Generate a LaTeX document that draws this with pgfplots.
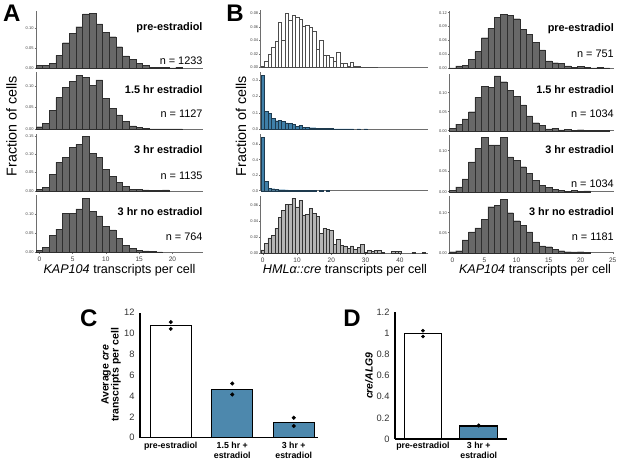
\documentclass[border=0pt]{standalone}
\usepackage{fontspec}
\setmainfont{Liberation Sans}
\usepackage{pgfplots}
\pgfplotsset{compat=1.18}
\definecolor{axcol}{HTML}{6E6E6E}
\definecolor{hgray}{HTML}{686868}
\definecolor{hedge}{HTML}{2E2E2E}
\definecolor{hblue}{HTML}{3F7FA8}
\definecolor{hbedge}{HTML}{1E3A4E}
\definecolor{hlight}{HTML}{B5B5B5}
\definecolor{cblue}{HTML}{4D88AD}
\pgfplotsset{
 hbase/.style={scale only axis, height=57pt, ymin=0, anchor=south west, clip=false,
  axis x line*=bottom, axis y line*=left,
  axis line style={-, draw=axcol, line width=0.5pt},
  tick style={draw=axcol, line width=0.4pt}, major tick length=1.5pt, tick align=outside,
  yticklabel style={font=\fontsize{4}{4}\selectfont, text=black!75, inner sep=0.8pt},
  xticklabel style={font=\fontsize{6.5}{7}\selectfont, text=black!75},
  scaled y ticks=false, /pgf/number format/assume math mode=true,
  y tick label style={/pgf/number format/fixed, /pgf/number format/fixed zerofill, /pgf/number format/precision=2}},
 colA/.style={hbase, width=167pt, xmin=-0.5, xmax=24.6, xtick={0,5,10,15,20}},
 colB/.style={hbase, width=167.3pt, xmin=-0.6, xmax=48.2, xtick={0,10,20,30,40}},
 colR/.style={hbase, width=164.7pt, xmin=-0.5, xmax=25.2, xtick={0,5,10,15,20,25}},
 hbar/.style={ybar, bar width=1, bar shift=0, line width=0.35pt},
 gbar/.style={hbar, fill=hgray, draw=hedge},
}
\newcommand{\lbl}{\fontsize{10.9}{12}\selectfont}
\begin{document}
\begin{tikzpicture}
\useasboundingbox (0,0) rectangle (617pt,466pt);
\fill[white] (0,0) rectangle (617pt,466pt);
% ---------------- Panel A ----------------
\begin{axis}[colA, at={(36pt,397.7pt)}, ymax=0.1425, ytick={0,0.05,0.10}, xtick=\empty]
\addplot[gbar] coordinates {(0,0.007)(1,0.007)(2,0.0125)(3,0.032)(4,0.064)(5,0.0875)(6,0.104)(7,0.136)(8,0.1375)(9,0.111)(10,0.09)(11,0.079)(12,0.054)(13,0.031)(14,0.0225)(15,0.0125)(16,0.008)(17,0.0025)(18,0.003)(19,0.003)(20,0.001)(21,0.002)};
\end{axis}
\begin{axis}[colA, at={(36pt,336.7pt)}, ymax=0.1313, ytick={0,0.05,0.10}, xtick=\empty]
\addplot[gbar] coordinates {(0,0.006)(1,0.014)(2,0.043)(3,0.073)(4,0.097)(5,0.11)(6,0.125)(7,0.12)(8,0.102)(9,0.114)(10,0.071)(11,0.048)(12,0.033)(13,0.018)(14,0.008)(15,0.005)(16,0.002)(17,0.001)(18,0.001)(19,0.001)(20,0.001)(21,0.001)};
\end{axis}
\begin{axis}[colA, at={(36pt,275pt)}, ymax=0.155, ytick={0,0.05,0.10,0.15}, xtick=\empty]
\addplot[gbar] coordinates {(0,0.0045)(1,0.01)(2,0.045)(3,0.078)(4,0.092)(5,0.119)(6,0.127)(7,0.148)(8,0.103)(9,0.091)(10,0.059)(11,0.039)(12,0.024)(13,0.012)(14,0.005)(15,0.0045)(16,0.003)(17,0.001)(18,0.002)(19,0.003)};
\end{axis}
\begin{axis}[colA, at={(36pt,213.7pt)}, ymax=0.15, ytick={0,0.05,0.10}]
\addplot[gbar] coordinates {(0,0.006)(1,0.013)(2,0.044)(3,0.061)(4,0.103)(5,0.103)(6,0.114)(7,0.142)(8,0.107)(9,0.096)(10,0.068)(11,0.059)(12,0.037)(13,0.019)(14,0.0105)(15,0.006)(16,0.0035)(17,0.002)(18,0.001)};
\end{axis}
% ---------------- Panel B middle ----------------
\begin{axis}[colB, at={(260.7pt,398.5pt)}, ymax=0.0844, ytick={0,0.02,0.04,0.06,0.08}, xtick=\empty]
\addplot[hbar, fill=white, draw=black!70] coordinates {(0,0.002)(1,0.01)(2,0.0195)(3,0.03)(4,0.039)(5,0.067)(6,0.04)(7,0.081)(8,0.07)(9,0.078)(10,0.074)(11,0.071)(12,0.061)(13,0.062)(14,0.06)(15,0.054)(16,0.027)(17,0.04)(18,0.0185)(19,0.0185)(20,0.016)(21,0.0095)(22,0.022)(23,0.006)(24,0.006)(25,0.002)(26,0.0075)(27,0.002)(28,0.0015)(29,0.001)(30,0.001)(31,0.001)(32,0.001)(33,0.001)};
\end{axis}
\begin{axis}[colB, at={(260.7pt,337pt)}, ymax=0.35, ytick={0,0.1,0.2,0.3}, xtick=\empty,
  y tick label style={/pgf/number format/precision=1}]
\addplot[hbar, fill=hblue, draw=hbedge] coordinates {(0,0.33)(1,0.108)(2,0.098)(3,0.067)(4,0.051)(5,0.055)(6,0.045)(7,0.037)(8,0.035)(9,0.029)(10,0.016)(11,0.022)(12,0.012)(13,0.01)(14,0.008)(15,0.008)(16,0.005)(17,0.004)(18,0.003)(19,0.002)(20,0.002)(21,0.001)(22,0.001)(23,0.001)(24,0.001)(25,0.001)(26,0.001)(28,0.001)(30,0.001)};
\end{axis}
\begin{axis}[colB, at={(260.7pt,275.3pt)}, ymax=0.735, ytick={0,0.2,0.4,0.6}, xtick=\empty,
  y tick label style={/pgf/number format/precision=1}]
\addplot[hbar, fill=hblue, draw=hbedge] coordinates {(0,0.69)(1,0.125)(2,0.034)(3,0.026)(4,0.017)(5,0.013)(6,0.013)(7,0.012)(8,0.009)(9,0.006)(10,0.003)(11,0.002)(12,0.002)(13,0.001)(14,0.001)(15,0.001)(17,0.001)(19,0.001)};
\end{axis}
\begin{axis}[colB, at={(260.7pt,213pt)}, ymax=0.0717, ytick={0,0.02,0.04,0.06}]
\addplot[hbar, fill=hlight, draw=black!80] coordinates {(0,0.004)(1,0.012)(2,0.019)(3,0.0225)(4,0.031)(5,0.045)(6,0.054)(7,0.061)(8,0.061)(9,0.069)(10,0.058)(11,0.066)(12,0.048)(13,0.049)(14,0.056)(15,0.05)(16,0.046)(17,0.025)(18,0.031)(19,0.030)(20,0.0285)(21,0.011)(22,0.017)(23,0.0095)(24,0.009)(25,0.0055)(26,0.009)(27,0.0045)(28,0.0075)(29,0.0105)(30,0.0005)(31,0.003)(32,0.0025)(33,0.003)(34,0.003)(35,0.0012)(38,0.002)(39,0.002)(40,0.002)(44,0.001)(47,0.001)};
\end{axis}
% ---------------- Panel B right ----------------
\begin{axis}[colR, at={(449.3pt,397.7pt)}, ymax=0.123, ytick={0,0.03,0.06,0.09,0.12}, xtick=\empty]
\addplot[gbar] coordinates {(0,0.001)(1,0.005)(2,0.007)(3,0.02)(4,0.036)(5,0.066)(6,0.086)(7,0.11)(8,0.117)(9,0.114)(10,0.107)(11,0.084)(12,0.073)(13,0.056)(14,0.04)(15,0.016)(16,0.012)(17,0.011)(18,0.005)(19,0.002)(20,0.0035)(21,0.002)(22,0.001)(23,0.0015)(24,0.001)};
\end{axis}
\begin{axis}[colR, at={(449.3pt,335.3pt)}, ymax=0.15, ytick={0,0.05,0.10}, xtick=\empty]
\addplot[gbar] coordinates {(0,0.006)(1,0.017)(2,0.031)(3,0.05)(4,0.088)(5,0.116)(6,0.114)(7,0.144)(8,0.129)(9,0.107)(10,0.091)(11,0.068)(12,0.039)(13,0.021)(14,0.014)(15,0.005)(16,0.006)(17,0.002)(18,0.0035)(19,0.001)(20,0.0025)(21,0.001)(22,0.001)(23,0.001)(24,0.001)};
\end{axis}
\begin{axis}[colR, at={(449.3pt,274.3pt)}, ymax=0.139, ytick={0,0.05,0.10}, xtick=\empty]
\addplot[gbar] coordinates {(0,0.004)(1,0.012)(2,0.031)(3,0.073)(4,0.106)(5,0.132)(6,0.114)(7,0.114)(8,0.132)(9,0.085)(10,0.077)(11,0.061)(12,0.045)(13,0.028)(14,0.015)(15,0.011)(16,0.006)(17,0.0025)(18,0.001)(19,0.003)(20,0.001)(21,0.002)};
\end{axis}
\begin{axis}[colR, at={(449.3pt,213.3pt)}, ymax=0.1425, ytick={0,0.05,0.10}]
\addplot[gbar] coordinates {(0,0.0025)(1,0.005)(2,0.032)(3,0.052)(4,0.062)(5,0.084)(6,0.115)(7,0.119)(8,0.133)(9,0.1)(10,0.08)(11,0.069)(12,0.052)(13,0.027)(14,0.017)(15,0.015)(16,0.008)(17,0.005)(18,0.0025)(19,0.002)(20,0.0025)(21,0.001)};
\end{axis}
% ---------------- Panel C ----------------
\begin{axis}[at={(140pt,28.3pt)}, anchor=south west, scale only axis, width=178pt, height=125pt,
  xmin=-0.5, xmax=2.394, ymin=0, ymax=12, clip=false,
  axis x line*=bottom, axis y line*=left, axis line style={-, line width=1.1pt, black},
  ytick={0,2,4,6,8,10,12}, xtick={0,1,2}, major tick length=0pt,
  /pgf/number format/assume math mode=true,
  yticklabel style={font=\fontsize{9.3}{9.3}\selectfont, text=black!80, xshift=-2pt},
  xticklabels={pre-estradiol,{1.5 hr +\\estradiol},{3 hr +\\estradiol}},
  xticklabel style={font=\bfseries\fontsize{8.8}{9.8}\selectfont, align=center, yshift=-1pt}]
\addplot[ybar, bar width=0.667, bar shift=0, fill=white, draw=black, line width=1.1pt] coordinates {(0,10.8)};
\addplot[ybar, bar width=0.667, bar shift=0, fill=cblue, draw=black, line width=1.1pt] coordinates {(1,4.67)(2,1.44)};
\addplot[only marks, mark=*, mark size=1.8pt, black] coordinates {(0,11.1)(0,10.45)(1,5.2)(1,4.15)(2,1.92)(2,1.12)};
\end{axis}
% ---------------- Panel D ----------------
\begin{axis}[at={(395pt,27pt)}, anchor=south west, scale only axis, width=111.7pt, height=126.8pt,
  xmin=-0.5, xmax=1.5, ymin=0, ymax=1.2, clip=false,
  axis x line*=bottom, axis y line*=left, axis line style={-, line width=1.1pt, black},
  ytick={0,0.2,0.4,0.6,0.8,1,1.2}, xtick={0,1}, major tick length=0pt,
  /pgf/number format/assume math mode=true,
  yticklabel style={font=\fontsize{9.3}{9.3}\selectfont, text=black!80, xshift=-2pt},
  xticklabels={pre-estradiol,{3 hr +\\estradiol}},
  xticklabel style={font=\bfseries\fontsize{8.8}{9.8}\selectfont, align=center}]
\addplot[ybar, bar width=0.675, bar shift=0, fill=white, draw=black, line width=1.1pt] coordinates {(0,1.0)};
\addplot[ybar, bar width=0.675, bar shift=0, fill=cblue, draw=black, line width=1.1pt] coordinates {(1,0.123)};
\addplot[only marks, mark=*, mark size=1.6pt, black] coordinates {(0,1.025)(0,0.97)(1,0.13)(1,0.125)};
\end{axis}
% ---------------- Texts ----------------
\node[anchor=east, inner sep=0, font=\lbl\bfseries] at (202.7pt,438pt) {pre-estradiol};
\node[anchor=east, inner sep=0, font=\lbl] at (202.7pt,405pt) {n = 1233};
\node[anchor=east, inner sep=0, font=\lbl\bfseries] at (202.7pt,376.5pt) {1.5 hr estradiol};
\node[anchor=east, inner sep=0, font=\lbl] at (202.7pt,352pt) {n = 1127};
\node[anchor=east, inner sep=0, font=\lbl\bfseries] at (202.7pt,316pt) {3 hr estradiol};
\node[anchor=east, inner sep=0, font=\lbl] at (202.7pt,290.5pt) {n = 1135};
\node[anchor=east, inner sep=0, font=\lbl\bfseries] at (202.7pt,254.5pt) {3 hr no estradiol};
\node[anchor=east, inner sep=0, font=\lbl] at (202.7pt,229pt) {n = 764};
\node[anchor=east, inner sep=0, font=\lbl\bfseries] at (614pt,437.3pt) {pre-estradiol};
\node[anchor=east, inner sep=0, font=\lbl] at (614pt,412.3pt) {n = 751};
\node[anchor=east, inner sep=0, font=\lbl\bfseries] at (614pt,376.5pt) {1.5 hr estradiol};
\node[anchor=east, inner sep=0, font=\lbl] at (614pt,352pt) {n = 1034};
\node[anchor=east, inner sep=0, font=\lbl\bfseries] at (614pt,316.5pt) {3 hr estradiol};
\node[anchor=east, inner sep=0, font=\lbl] at (614pt,282.7pt) {n = 1034};
\node[anchor=east, inner sep=0, font=\lbl\bfseries] at (614pt,254.5pt) {3 hr no estradiol};
\node[anchor=east, inner sep=0, font=\lbl] at (614pt,228.8pt) {n = 1181};
% axis titles
\node[rotate=90, inner sep=0, font=\fontsize{14.3}{15}\selectfont] at (11.5pt,340pt) {Fraction of cells};
\node[rotate=90, inner sep=0, font=\fontsize{14.3}{15}\selectfont] at (241pt,340pt) {Fraction of cells};
\node[inner sep=0, font=\fontsize{12.6}{14}\selectfont] at (119.5pt,196pt) {\textit{KAP104} transcripts per cell};
\node[inner sep=0, font=\fontsize{12.6}{14}\selectfont] at (345pt,196pt) {\textit{HMLα::cre} transcripts per cell};
\node[inner sep=0, font=\fontsize{12.6}{14}\selectfont] at (535pt,196pt) {\textit{KAP104} transcripts per cell};
\node[rotate=90, inner sep=0, align=center, font=\bfseries\fontsize{10.5}{10}\selectfont] at (111.2pt,91pt) {Average \textit{cre}\\transcripts per cell};
\node[rotate=90, inner sep=0, font=\bfseries\itshape\fontsize{10.4}{12}\selectfont] at (369pt,90.2pt) {cre/ALG9};
% panel letters
\node[inner sep=0, font=\bfseries\fontsize{24}{26}\selectfont] at (11.7pt,452.7pt) {A};
\node[inner sep=0, font=\bfseries\fontsize{24}{26}\selectfont] at (235pt,452.7pt) {B};
\node[inner sep=0, font=\bfseries\fontsize{24}{26}\selectfont] at (88.7pt,148pt) {C};
\node[inner sep=0, font=\bfseries\fontsize{24}{26}\selectfont] at (352pt,148pt) {D};
\end{tikzpicture}
\end{document}
